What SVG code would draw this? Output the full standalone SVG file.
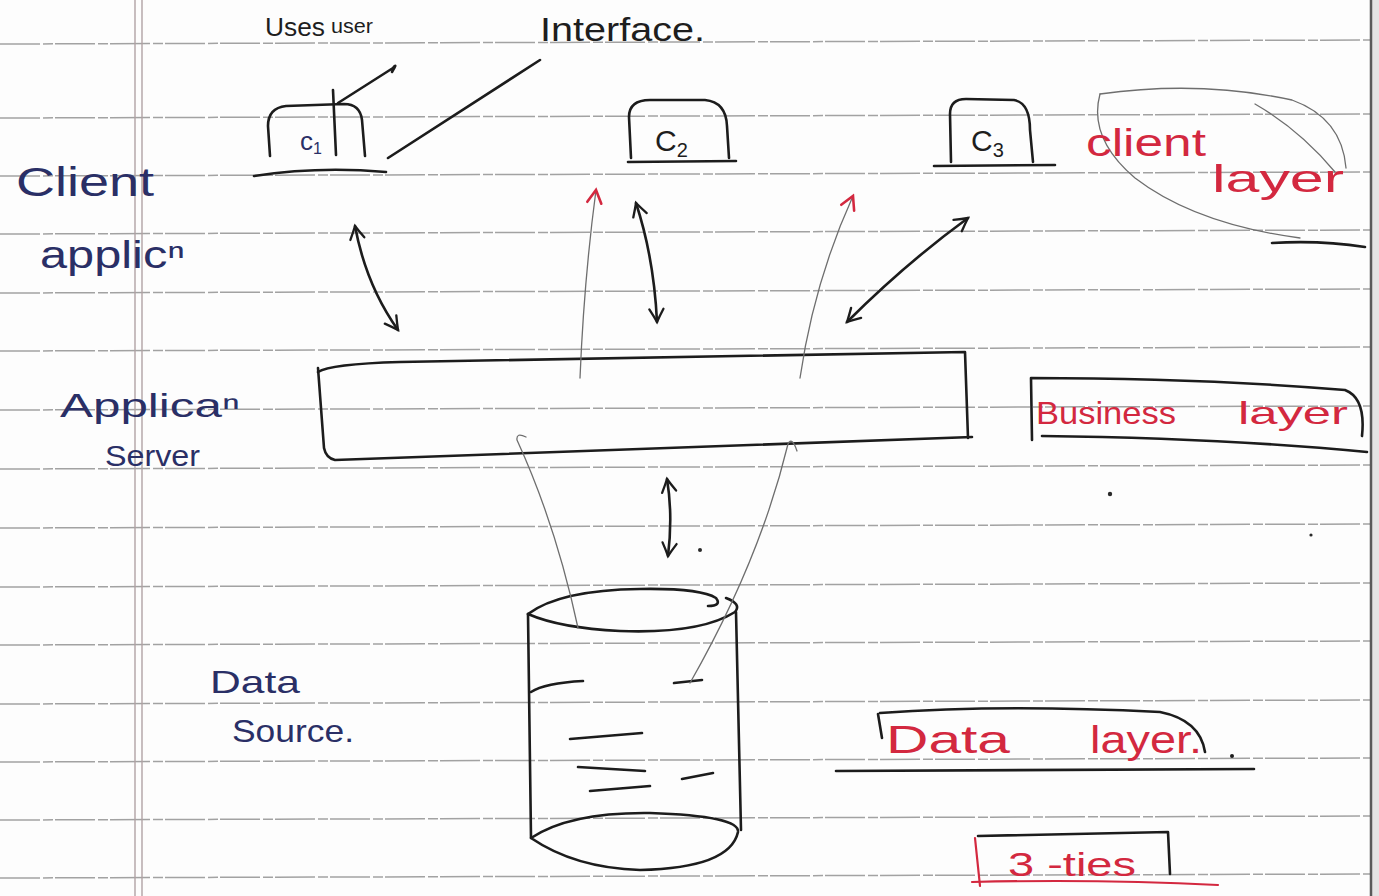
<svg xmlns="http://www.w3.org/2000/svg" width="1379" height="896" viewBox="0 0 1379 896">
  <style>
    .rule { stroke: #a2a2a2; stroke-width: 1.5; fill: none; stroke-dasharray: 40 3 10 2; }
    .margin { stroke: #b0a2a4; stroke-width: 1.4; fill: none; }
    .pen { stroke: #1c1c1c; stroke-width: 2.6; fill: none; stroke-linecap: round; stroke-linejoin: round; }
    .pencil { stroke: #6e6e6e; stroke-width: 1.3; fill: none; stroke-linecap: round; }
    .redpen { stroke: #d3283f; stroke-width: 2.2; fill: none; stroke-linecap: round; }
    .hand { font-family: "Liberation Sans", "DejaVu Sans", sans-serif; }
    .ink { fill: #1e1e1e; }
    .blue { fill: #2a2f66; }
    .red { fill: #d3283f; }
  </style>
  <defs>
    <marker id="head" viewBox="0 0 14 14" refX="12" refY="7" markerWidth="18" markerHeight="18" markerUnits="userSpaceOnUse" orient="auto-start-reverse">
      <path d="M2,1.5 Q8,5 12,7 Q8,9 2,12.5" fill="none" stroke="#1c1c1c" stroke-width="1.8" stroke-linecap="round"/>
    </marker>
    <marker id="redhead" viewBox="0 0 14 14" refX="12" refY="7" markerWidth="18" markerHeight="18" markerUnits="userSpaceOnUse" orient="auto">
      <path d="M2,1.5 L12,7 L2,12.5" fill="none" stroke="#d3283f" stroke-width="2" stroke-linecap="round"/>
    </marker>
  </defs>

  <!-- notebook page -->
  <rect x="0" y="0" width="1379" height="896" fill="#fdfdfd"/>
  <g id="ruling">
    <path class="rule" d="M0,44 L1379,40"/>
    <path class="rule" d="M0,118 L1379,114"/>
    <path class="rule" d="M0,176 L1379,172"/>
    <path class="rule" d="M0,234 L1379,230"/>
    <path class="rule" d="M0,293 L1379,289"/>
    <path class="rule" d="M0,351 L1379,347"/>
    <path class="rule" d="M0,410 L1379,406"/>
    <path class="rule" d="M0,469 L1379,465"/>
    <path class="rule" d="M0,528 L1379,524"/>
    <path class="rule" d="M0,587 L1379,583"/>
    <path class="rule" d="M0,645 L1379,641"/>
    <path class="rule" d="M0,704 L1379,700"/>
    <path class="rule" d="M0,762 L1379,758"/>
    <path class="rule" d="M0,820 L1379,816"/>
    <path class="rule" d="M0,878 L1379,874"/>
    <line class="margin" x1="135" y1="0" x2="135" y2="896"/>
    <line class="margin" x1="142" y1="0" x2="142" y2="896"/>
    <rect x="1371" y="0" width="8" height="896" fill="#e4e4e4"/>
    <line x1="1371" y1="0" x2="1371" y2="896" stroke="#5a5a5a" stroke-width="2.5"/>
  </g>

  <!-- side labels -->
  <g id="label-uses-user-interface">
    <text class="hand ink" x="265" y="36" font-size="26" textLength="60" lengthAdjust="spacingAndGlyphs">Uses</text>
    <text class="hand ink" x="331" y="33" font-size="20" textLength="42" lengthAdjust="spacingAndGlyphs">user</text>
    <text class="hand ink" x="540" y="41" font-size="34" textLength="165" lengthAdjust="spacingAndGlyphs">Interface.</text>
  </g>
  <g id="label-client-application">
    <text class="hand blue" x="16" y="196" font-size="40" textLength="138" lengthAdjust="spacingAndGlyphs">Client</text>
    <text class="hand blue" x="40" y="268" font-size="38" textLength="145" lengthAdjust="spacingAndGlyphs">applicⁿ</text>
  </g>
  <g id="label-application-server">
    <text class="hand blue" x="60" y="417" font-size="34" textLength="180" lengthAdjust="spacingAndGlyphs">Applicaⁿ</text>
    <text class="hand blue" x="105" y="466" font-size="30" textLength="95" lengthAdjust="spacingAndGlyphs">Server</text>
  </g>
  <g id="label-data-source">
    <text class="hand blue" x="210" y="693" font-size="32" textLength="90" lengthAdjust="spacingAndGlyphs">Data</text>
    <text class="hand blue" x="232" y="742" font-size="32" textLength="122" lengthAdjust="spacingAndGlyphs">Source.</text>
  </g>

  <!-- client layer -->
  <g id="client-1">
    <path class="pen" d="M270,156 L268,126 Q268,108 286,106 L344,104 Q360,104 362,120 L365,156"/>
    <path class="pen" d="M333,90 L336,155"/>
    <path class="pen" d="M254,176 Q318,166 386,172"/>
    <text class="hand blue" x="300" y="150" font-size="26">c<tspan font-size="16" dy="4">1</tspan></text>
  </g>
  <g id="client-2">
    <path class="pen" d="M631,158 L629,117 Q629,100 650,100 L705,100 Q726,102 727,126 L729,158"/>
    <path class="pen" d="M628,162 L736,161"/>
    <text class="hand ink" x="655" y="151" font-size="30">C<tspan font-size="20" dy="6">2</tspan></text>
  </g>
  <g id="client-3">
    <path class="pen" d="M951,162 L950,114 Q950,99 966,99 L1014,100 Q1030,103 1030,130 L1033,162"/>
    <path class="pen" d="M934,166 L1055,165"/>
    <text class="hand ink" x="971" y="151" font-size="30">C<tspan font-size="20" dy="6">3</tspan></text>
  </g>
  <g id="client-layer-tag">
    <path class="pencil" d="M1100,94 Q1088,138 1135,178 Q1195,224 1300,238"/>
    <path class="pencil" d="M1100,94 Q1200,80 1292,100 Q1342,118 1346,168"/>
    <path class="pencil" d="M1255,104 Q1300,130 1335,172"/>
    <path class="pen" d="M1272,243 Q1320,240 1365,247" stroke-width="2"/>
    <text class="hand red" x="1086" y="156" font-size="38" textLength="120" lengthAdjust="spacingAndGlyphs">client</text>
    <text class="hand red" x="1212" y="192" font-size="38" textLength="132" lengthAdjust="spacingAndGlyphs">layer</text>
  </g>

  <!-- business layer -->
  <g id="application-server">
    <path class="pen" d="M318,372 Q330,364 400,362 L965,352 L968,438"/>
    <path class="pen" d="M318,368 L324,448 Q326,458 335,460 L972,437"/>
  </g>
  <g id="business-layer-tag">
    <path class="pen" d="M1032,440 L1031,378 Q1200,378 1345,390 Q1366,398 1362,436" stroke-width="2.2"/>
    <path class="pen" d="M1042,436 Q1220,438 1367,452" stroke-width="2"/>
    <text class="hand red" x="1036" y="424" font-size="32" textLength="140" lengthAdjust="spacingAndGlyphs">Business</text>
    <text class="hand red" x="1238" y="424" font-size="32" textLength="110" lengthAdjust="spacingAndGlyphs">layer</text>
  </g>

  <!-- data layer -->
  <g id="data-source">
    <path class="pen" d="M528,614 Q560,590 640,589 Q700,588 716,598 Q722,606 708,606"/>
    <path class="pen" d="M726,598 Q742,604 735,612 Q700,634 620,631 Q560,628 528,614"/>
    <path class="pen" d="M528,614 L531,838"/>
    <path class="pen" d="M736,612 L741,830"/>
    <path class="pen" d="M531,838 Q570,812 650,813 Q740,816 738,832 Q730,868 640,870 Q575,868 531,838 Z"/>
    <path class="pen" d="M531,692 Q545,683 583,681" stroke-width="2"/>
    <path class="pen" d="M674,683 L702,680" stroke-width="2"/>
    <path class="pen" d="M570,739 L642,733" stroke-width="2"/>
    <path class="pen" d="M578,767 L645,771" stroke-width="2"/>
    <path class="pen" d="M682,779 L713,773" stroke-width="2"/>
    <path class="pen" d="M590,791 L650,786" stroke-width="2"/>
  </g>
  <g id="data-layer-tag">
    <path class="pen" d="M878,714 L882,738" stroke-width="2.2"/>
    <path class="pen" d="M880,713 Q1000,704 1160,712 Q1200,720 1205,752" stroke-width="2"/>
    <path class="pen" d="M836,771 L1254,769" stroke-width="2"/>
    <circle cx="1232" cy="756" r="2" fill="#1c1c1c"/>
    <text class="hand red" x="886" y="753" font-size="38" textLength="124" lengthAdjust="spacingAndGlyphs">Data</text>
    <text class="hand red" x="1090" y="753" font-size="38" textLength="112" lengthAdjust="spacingAndGlyphs">layer.</text>
  </g>
  <g id="three-tier-tag">
    <path class="redpen" d="M975,838 L980,886"/>
    <path class="pen" d="M978,836 L1168,832 L1170,874" stroke-width="2"/>
    <path class="redpen" d="M972,882 Q1100,879 1218,885"/>
    <text class="hand red" x="1008" y="876" font-size="34" textLength="128" lengthAdjust="spacingAndGlyphs">3 -ties</text>
  </g>

  <!-- connectors -->
  <g id="connectors">
    <!-- callouts for the client boxes -->
    <path class="pen" d="M392,72 Q398,62 393,68 L338,103" stroke-width="2"/>
    <path class="pen" d="M540,60 L388,158" stroke-width="2"/>
    <!-- client <-> application server -->
    <path class="pen" d="M355,226 Q366,285 398,330" marker-start="url(#head)" marker-end="url(#head)"/>
    <path class="pen" d="M636,203 Q654,258 657,322" marker-start="url(#head)" marker-end="url(#head)"/>
    <path class="pen" d="M968,218 Q905,264 847,322" marker-start="url(#head)" marker-end="url(#head)"/>
    <!-- responses back to the clients -->
    <path class="pencil" d="M580,378 Q584,280 596,190" marker-end="url(#redhead)"/>
    <path class="pencil" d="M800,378 Q814,282 853,196" marker-end="url(#redhead)"/>
    <!-- application server <-> data source -->
    <path class="pen" d="M667,479 Q673,515 668,556" marker-start="url(#head)" marker-end="url(#head)"/>
    <!-- data source feeding the server -->
    <path class="pencil" d="M578,628 Q556,525 517,440 Q516,432 526,437"/>
    <path class="pencil" d="M690,683 Q760,560 788,444 Q792,436 797,451"/>
  </g>

  <!-- stray pen dots -->
  <circle cx="700" cy="550" r="2" fill="#2a2a2a"/>
  <circle cx="1110" cy="494" r="2.2" fill="#2a2a2a"/>
  <circle cx="1311" cy="535" r="1.6" fill="#2a2a2a"/>
</svg>
